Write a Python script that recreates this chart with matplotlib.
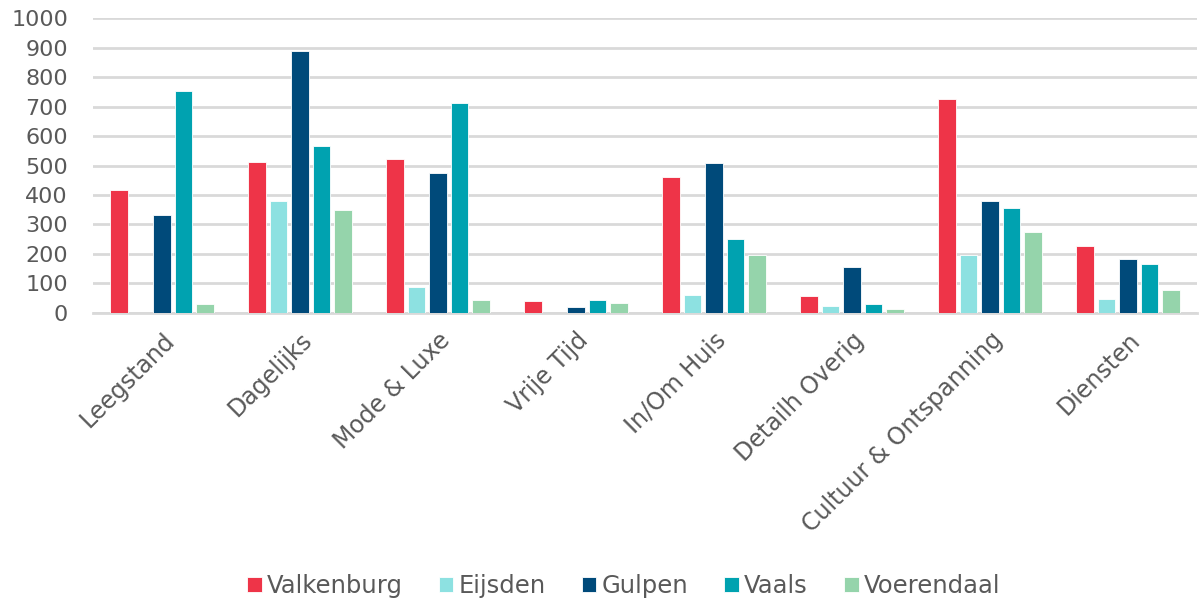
import matplotlib
matplotlib.use("Agg")
import matplotlib.pyplot as plt
import numpy as np

categories = ["Leegstand", "Dagelijks", "Mode & Luxe", "Vrije Tijd", "In/Om Huis",
              "Detailh Overig", "Cultuur & Ontspanning", "Diensten"]
series_names = ["Valkenburg", "Eijsden", "Gulpen", "Vaals", "Voerendaal"]
valkenburg = [416, 511, 521, 39, 461, 57, 726, 225]
eijsden = [0, 379, 87, 0, 60, 23, 197, 47]
gulpen = [333, 890, 474, 18, 507, 156, 378, 181]
vaals = [754, 566, 711, 43, 250, 30, 356, 166]
voerendaal = [28, 349, 44, 33, 197, 14, 274, 77]
colors = ["#EE3448", "#8DE1E1", "#004A7A", "#00A2B0", "#95D4AB"]
yticks = [0, 100, 200, 300, 400, 500, 600, 700, 800, 900, 1000]

plt.rcParams['font.family'] = ['DejaVu Sans']
text_color = "#595959"

fig = plt.figure(figsize=(11.99, 6.0), dpi=100)
ax = fig.add_axes([93/1199, 1-312.7/600, (1197-93)/1199, (312.7-18.4)/600])

data = [valkenburg, eijsden, gulpen, vaals, voerendaal]
x = np.arange(len(categories))
step = 0.156
width = 0.126
for i, (name, vals, c) in enumerate(zip(series_names, data, colors)):
    ax.bar(x + (i - 2) * step, vals, width=width, color=c, edgecolor="white",
           linewidth=0.6, label=name, zorder=3)

ax.set_xlim(-0.5, len(categories) - 0.5)
ax.set_ylim(0, 1000)
ax.set_yticks(yticks)
ax.set_yticklabels([str(v) for v in yticks], fontsize=16, color=text_color)
ax.yaxis.grid(True, color="#D9D9D9", linewidth=2, zorder=0)
ax.set_axisbelow(True)
for s in ["top", "right", "left"]:
    ax.spines[s].set_visible(False)
ax.spines["bottom"].set_color("#D9D9D9")
ax.spines["bottom"].set_linewidth(2)
ax.tick_params(axis="y", length=0, pad=18)
ax.tick_params(axis="x", length=0, pad=11)
ax.set_xticks(x)
ax.set_xticklabels(categories, rotation=45, ha="right", rotation_mode="anchor",
                   fontsize=17, color=text_color)

leg = fig.legend(loc="lower center", bbox_to_anchor=(0.52, -0.033), ncol=5,
                 frameon=False, fontsize=17.5, handlelength=0.6, handleheight=0.6,
                 handletextpad=0.2, columnspacing=1.5)
for t in leg.get_texts():
    t.set_color(text_color)

fig.savefig("out.png", dpi=100)
